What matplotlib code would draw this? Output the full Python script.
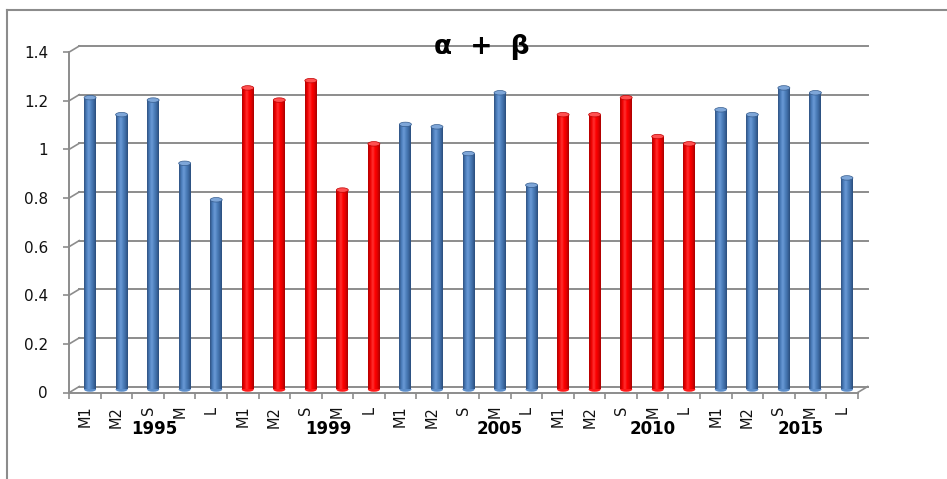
import numpy as np
import matplotlib
matplotlib.use("Agg")
import matplotlib.pyplot as plt
from matplotlib import transforms
from matplotlib.patches import Ellipse, Rectangle
from matplotlib.colors import LinearSegmentedColormap

# ---- data ----
years = ['1995', '1999', '2005', '2010', '2015']
sub_labels = ['M1', 'M2', 'S', 'M', 'L']
values_1995 = [1.20, 1.13, 1.19, 0.93, 0.78]
values_1999 = [1.24, 1.19, 1.27, 0.82, 1.01]
values_2005 = [1.09, 1.08, 0.97, 1.22, 0.84]
values_2010 = [1.13, 1.13, 1.20, 1.04, 1.01]
values_2015 = [1.15, 1.13, 1.24, 1.22, 0.87]
group_series = ['blue', 'red', 'blue', 'red', 'blue']
y_ticks = [0, 0.2, 0.4, 0.6, 0.8, 1.0, 1.2, 1.4]
y_tick_labels = ['0', '0.2', '0.4', '0.6', '0.8', '1', '1.2', '1.4']
title = 'α  +  β'

# ---- style ----
W, H = 947, 479
fig = plt.figure(figsize=(W / 100, H / 100), dpi=100)
fig.patch.set_facecolor('white')
GRID = '#8c8c8c'

left_px, right_px, bottom_px, top_px = 69.3, 857.7, 392.5, 52.0
ax = fig.add_axes([left_px / W, 1 - bottom_px / H,
                   (right_px - left_px) / W, (bottom_px - top_px) / H])
ax.set_xlim(0, 25)
ax.set_ylim(0, 1.4)
ax.patch.set_visible(False)

# frame of the chart box
fig.add_artist(plt.Line2D([7 / W, 7 / W], [0, 1 - 10 / H], color=GRID, lw=1.5,
                          transform=fig.transFigure))
fig.add_artist(plt.Line2D([7 / W, 1.01], [1 - 10 / H, 1 - 10 / H], color=GRID, lw=1.5,
                          transform=fig.transFigure))

n_groups = len(years)
values = np.array([values_1995, values_1999, values_2005, values_2010, values_2015]).ravel()
labels = sub_labels * n_groups
n = len(values)
centers = np.arange(n) + 0.5

# back wall gridlines (offset for depth)
back = transforms.offset_copy(ax.transData, fig=fig, x=10, y=6, units='dots')
for yv in y_ticks:
    ax.plot([0, 25], [yv, yv], color=GRID, lw=1.4, transform=back, clip_on=False, zorder=1)
    p0 = ax.transData.transform((0, yv))
    p1 = back.transform((0, yv))
    fig.add_artist(plt.Line2D([p0[0] / W, p1[0] / W], [p0[1] / H, p1[1] / H],
                              color=GRID, lw=1.2, transform=fig.transFigure))
# right floor diagonal
p0 = ax.transData.transform((25, 0))
p1 = back.transform((25, 0))
fig.add_artist(plt.Line2D([p0[0] / W, p1[0] / W], [p0[1] / H, p1[1] / H],
                          color=GRID, lw=1.2, transform=fig.transFigure))

# bars (cylinders)
cmaps = {
    'blue': LinearSegmentedColormap.from_list('b', ['#2f5281', '#4a7cba', '#6a9ad6', '#4f81bd', '#3d6aa3', '#2a4d7c']),
    'red': LinearSegmentedColormap.from_list('r', ['#b00000', '#f00000', '#ff3030', '#ff0000', '#e00000', '#a80000']),
}
tops = {'blue': '#7ea6d8', 'red': '#ff5050'}
bar_w = 0.38
mid = transforms.offset_copy(ax.transData, fig=fig, x=5, y=3, units='dots')
grad = np.linspace(0, 1, 64).reshape(1, -1)
series = [s for s in group_series for _ in sub_labels]
ell_h = 4.5 / 243.2
for x, v, s in zip(centers, values, series):
    rect = Rectangle((x - bar_w / 2, 0), bar_w, v, transform=mid, facecolor='none',
                     edgecolor='none')
    ax.add_patch(rect)
    im = ax.imshow(grad, cmap=cmaps[s], aspect='auto', interpolation='bilinear',
                   extent=(x - bar_w / 2, x + bar_w / 2, 0, v), zorder=3)
    im.set_transform(mid)
    im.set_clip_path(rect)
    ax.add_patch(Ellipse((x, v), bar_w, ell_h, transform=mid, facecolor=tops[s],
                         edgecolor=cmaps[s](0.05), lw=0.5, zorder=4, clip_on=False))
    ax.add_patch(Ellipse((x, 0), bar_w, ell_h, transform=mid, facecolor=cmaps[s](0.5),
                         edgecolor='none', zorder=2.9, clip_on=False))
ax.set_xlim(0, 25)
ax.set_ylim(0, 1.4)

# axes / ticks
for sp in ['top', 'right']:
    ax.spines[sp].set_visible(False)
for sp in ['left', 'bottom']:
    ax.spines[sp].set_color(GRID)
    ax.spines[sp].set_linewidth(1.4)
    ax.spines[sp].set_zorder(0.5)
ax.set_yticks(y_ticks)
ax.set_yticklabels(y_tick_labels, fontsize=11, color='#111111')
ax.tick_params(axis='y', length=4.3, width=1.2, color=GRID, pad=11)
ax.set_xticks(np.arange(n + 1))
ax.set_xticklabels([])
ax.tick_params(axis='x', which='major', length=4.3, width=1.2, color=GRID)
ax.set_xticks(centers, minor=True)
ax.set_xticklabels(labels, minor=True, rotation=90, fontsize=10.5, color='#111111')
ax.tick_params(axis='x', which='minor', length=0, pad=9.5)

# group (year) labels
group_label_x = [2.71, 8.2, 13.65, 18.5, 23.2]
for gx, yr in zip(group_label_x, years):
    ax.text(gx, -0.150, yr, ha='center', va='center', fontsize=12, fontweight='bold',
            clip_on=False)

fig.text(481.5 / W, 1 - 46.7 / H, title, ha='center', va='center', fontsize=19,
         fontweight='bold')

fig.savefig('out.png', dpi=100)
